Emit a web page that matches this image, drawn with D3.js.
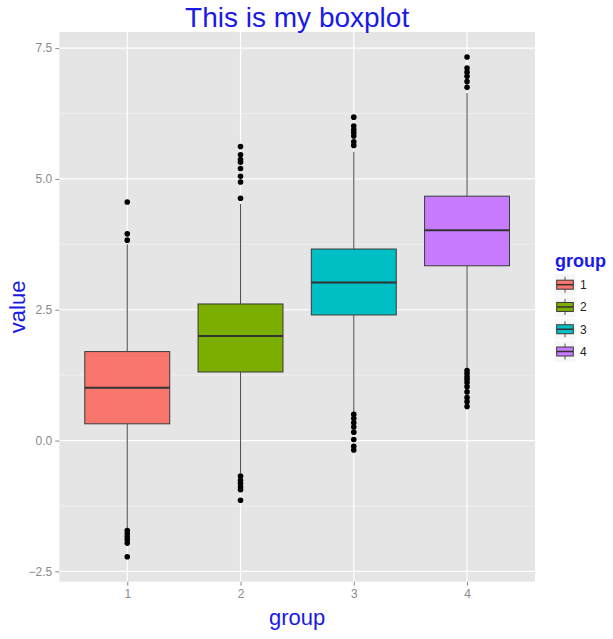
<!DOCTYPE html>
<html>
<head>
<meta charset="utf-8">
<script src="https://cdn.jsdelivr.net/npm/d3@7"></script>
<style>
  html, body { margin: 0; padding: 0; background: #ffffff; }
  svg { display: block; font-family: "Liberation Sans", Arial, sans-serif; }
</style>
</head>
<body>
<svg id="chart" width="613" height="639"></svg>
<script>
// Box statistics for each group
const groups      = ["1", "2", "3", "4"];
const lowerWhisk  = [-1.70, -0.62, 0.53, 1.37];
const q1          = [0.32, 1.31, 2.40, 3.34];
const medians     = [1.01, 2.00, 3.02, 4.02];
const q3          = [1.70, 2.61, 3.66, 4.67];
const upperWhisk  = [3.75, 4.52, 5.52, 6.64];

// Points beyond 1.5 * IQR
const outliers1 = [4.56, 3.95, 3.83, -1.72, -1.78, -1.84, -1.89, -1.96, -2.22];
const outliers2 = [5.62, 5.46, 5.37, 5.32, 5.20, 5.05, 4.94, 4.63, -0.68, -0.76, -0.82, -0.89, -0.94, -1.14];
const outliers3 = [6.18, 6.01, 5.94, 5.88, 5.82, 5.71, 5.64, 0.50, 0.42, 0.34, 0.26, 0.16, 0.02, -0.11, -0.18];
const outliers4 = [7.33, 7.12, 7.04, 6.96, 6.86, 6.75, 1.34, 1.28, 1.22, 1.17, 1.11, 1.03, 0.93, 0.82, 0.74, 0.65];

const yTicks = [-2.5, 0.0, 2.5, 5.0, 7.5];
const yMinorTicks = [-1.25, 1.25, 3.75, 6.25];
const fills = ["#F8766D", "#7CAE00", "#00BFC4", "#C77CFF"];

const chartTitle = "This is my boxplot";
const xTitle = "group";
const yTitle = "value";
const legendTitle = "group";

const outlierSets = [outliers1, outliers2, outliers3, outliers4];
const stats = groups.map((g, i) => ({
  group: g, lo: lowerWhisk[i], q1: q1[i], med: medians[i], q3: q3[i], hi: upperWhisk[i],
  outliers: outlierSets[i], fill: fills[i]
}));

const svg = d3.select("#chart");
const panel = { left: 59.3, right: 535, top: 32, bottom: 581.7 };

// Continuous y range padded by 5% on each side
const allVals = stats.flatMap(d => [d.lo, d.hi, ...d.outliers]);
const [vMin, vMax] = d3.extent(allVals);
const pad = (vMax - vMin) * 0.05;
const y = d3.scaleLinear().domain([vMin - pad, vMax + pad]).range([panel.bottom, panel.top]);

const x = d3.scalePoint().domain(groups).range([panel.left, panel.right]).padding(0.6);
const boxW = x.step() * 0.75;

// Panel background
svg.append("rect")
  .attr("x", panel.left).attr("y", panel.top)
  .attr("width", panel.right - panel.left).attr("height", panel.bottom - panel.top)
  .attr("fill", "#E5E5E5");

// Grid lines
const grid = svg.append("g");
grid.selectAll(".minor").data(yMinorTicks).join("line")
  .attr("x1", panel.left).attr("x2", panel.right)
  .attr("y1", d => y(d)).attr("y2", d => y(d))
  .attr("stroke", "#F2F2F2").attr("stroke-width", 0.7);
grid.selectAll(".major").data(yTicks).join("line")
  .attr("x1", panel.left).attr("x2", panel.right)
  .attr("y1", d => y(d)).attr("y2", d => y(d))
  .attr("stroke", "#FFFFFF").attr("stroke-width", 1.2);
grid.selectAll(".xmajor").data(groups).join("line")
  .attr("x1", d => x(d)).attr("x2", d => x(d))
  .attr("y1", panel.top).attr("y2", panel.bottom)
  .attr("stroke", "#FFFFFF").attr("stroke-width", 1.2);

// Axes
const yAxis = svg.append("g")
  .attr("transform", `translate(${panel.left},0)`)
  .call(d3.axisLeft(y).tickValues(yTicks).tickFormat(d3.format(".1f")).tickSize(4).tickPadding(3));
const xAxis = svg.append("g")
  .attr("transform", `translate(0,${panel.bottom})`)
  .call(d3.axisBottom(x).tickSize(4).tickPadding(4));
[yAxis, xAxis].forEach(ax => {
  ax.select(".domain").remove();
  ax.selectAll(".tick line").attr("stroke", "#8A8A8A");
  ax.selectAll(".tick text").attr("fill", "#8A8A8A").style("font-size", "12px")
    .style("font-family", "'Liberation Sans', Arial, sans-serif");
});

// Boxes
const boxes = svg.append("g").selectAll("g").data(stats).join("g");
boxes.append("line")
  .attr("x1", d => x(d.group)).attr("x2", d => x(d.group))
  .attr("y1", d => y(d.hi)).attr("y2", d => y(d.q3))
  .attr("stroke", "#555").attr("stroke-width", 1.1);
boxes.append("line")
  .attr("x1", d => x(d.group)).attr("x2", d => x(d.group))
  .attr("y1", d => y(d.q1)).attr("y2", d => y(d.lo))
  .attr("stroke", "#555").attr("stroke-width", 1.1);
boxes.append("rect")
  .attr("x", d => x(d.group) - boxW / 2).attr("width", boxW)
  .attr("y", d => y(d.q3)).attr("height", d => y(d.q1) - y(d.q3))
  .attr("fill", d => d.fill).attr("stroke", "#3A3A3A").attr("stroke-width", 1);
boxes.append("line")
  .attr("x1", d => x(d.group) - boxW / 2).attr("x2", d => x(d.group) + boxW / 2)
  .attr("y1", d => y(d.med)).attr("y2", d => y(d.med))
  .attr("stroke", "#333").attr("stroke-width", 2);
boxes.selectAll("circle").data(d => d.outliers.map(v => ({ g: d.group, v }))).join("circle")
  .attr("cx", d => x(d.g)).attr("cy", d => y(d.v)).attr("r", 2.8)
  .attr("fill", "#000");

// Titles
svg.append("text")
  .attr("x", (panel.left + panel.right) / 2).attr("y", 27)
  .attr("text-anchor", "middle").attr("fill", "#1A1AE6")
  .style("font-size", "28px").text(chartTitle);
svg.append("text")
  .attr("x", (panel.left + panel.right) / 2).attr("y", 625)
  .attr("text-anchor", "middle").attr("fill", "#1A1AE6")
  .style("font-size", "22px").text(xTitle);
svg.append("text")
  .attr("transform", `translate(25,${(panel.top + panel.bottom) / 2}) rotate(-90)`)
  .attr("text-anchor", "middle").attr("fill", "#1A1AE6")
  .style("font-size", "22px").text(yTitle);

// Legend
const legend = svg.append("g").attr("transform", "translate(554,0)");
legend.append("text")
  .attr("x", 1).attr("y", 267)
  .attr("fill", "#1A1AE6").style("font-size", "18px").style("font-weight", "bold")
  .text(legendTitle);
const keyY = d3.scalePoint().domain(groups).range([284.7, 351.5]);
const keys = legend.selectAll(".key").data(stats).join("g")
  .attr("transform", d => `translate(0,${keyY(d.group)})`);
keys.append("rect")
  .attr("x", 0).attr("y", -11).attr("width", 22).attr("height", 22)
  .attr("fill", "#F7F7F7").attr("stroke", "#FFFFFF");
keys.append("line")
  .attr("x1", 11).attr("x2", 11).attr("y1", -8).attr("y2", 8)
  .attr("stroke", "#555").attr("stroke-width", 1);
keys.append("rect")
  .attr("x", 2.7).attr("y", -4.5).attr("width", 16.6).attr("height", 9)
  .attr("fill", d => d.fill).attr("stroke", "#3A3A3A").attr("stroke-width", 1);
keys.append("line")
  .attr("x1", 2.7).attr("x2", 19.3).attr("y1", 0).attr("y2", 0)
  .attr("stroke", "#333").attr("stroke-width", 1.5);
keys.append("text")
  .attr("x", 26).attr("y", 0).attr("dy", "0.36em")
  .attr("fill", "#222").style("font-size", "12px")
  .text(d => d.group);
</script>
</body>
</html>
